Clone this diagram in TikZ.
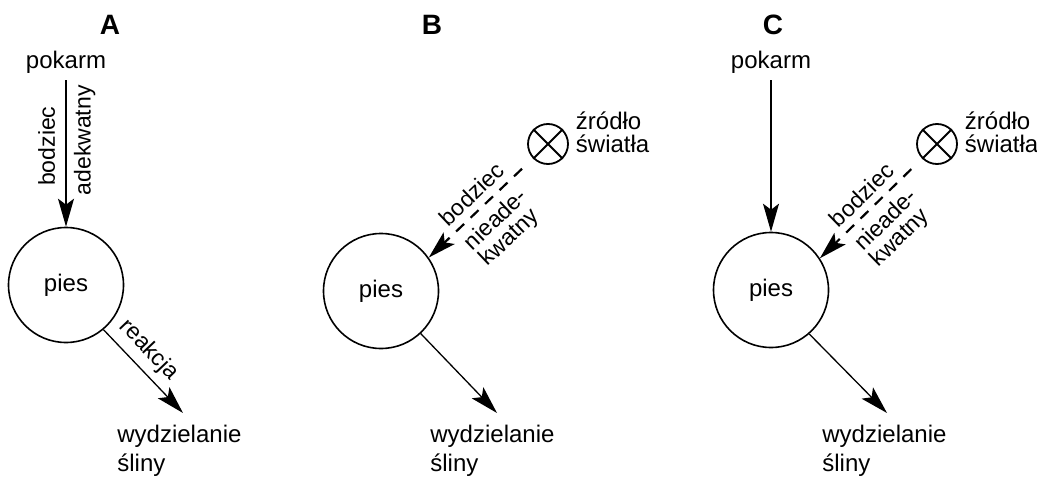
\documentclass[tikz,border=0pt]{standalone}
\usepackage{fontspec}
\setmainfont{Liberation Sans}
\usetikzlibrary{positioning, arrows.meta}

\begin{document}
\begin{tikzpicture}
  [
  x=0.5pt, y=-0.5pt,
  every node/.style={font=\fontsize{12}{14.5}\selectfont},
  title/.style={font=\fontsize{14}{16}\selectfont\bfseries},
  dog/.style={circle, draw, line width=0.8pt, minimum size=57.5pt, inner sep=0pt},
  lamp/.style={circle, draw, line width=0.9pt, minimum size=20pt, inner sep=0pt},
  lbl/.style={font=\fontsize{11.5}{11}\selectfont, inner sep=1.5pt},
  react/.style={align=left, anchor=north west, inner sep=0pt},
  arr/.style={line width=0.65pt, -{Stealth[length=14pt, width=8pt, inset=3pt]}},
  dasharr/.style={arr, line width=1.1pt, dash pattern=on 5.5pt off 4.5pt, shorten <=7.5pt}
  ]
  \useasboundingbox (0,0) rectangle (1037,476);

  % A
  \node[title] (tA) at (110,25) {A};
  \node (foodA) at (66,62) {pokarm};
  \node[dog] (dogA) at (66,285) {pies};
  \node[react] (salA) at (117,425) {wydzielanie\\śliny};
  \coordinate (tipA) at (183,413);
  \draw[arr] (foodA) -- (dogA)
    node[lbl, pos=.45, rotate=90, anchor=south, outer sep=4pt] {bodziec}
    node[lbl, pos=.41, rotate=90, anchor=north, outer sep=2.5pt] {adekwatny};
  \draw[arr] (dogA.-50) -- (tipA)
    node[lbl, pos=.4, sloped, above, outer sep=2.5pt] {reakcja};

  % B
  \node[title] (tB) at (432,25) {B};
  \node[dog] (dogB) at (381,291) {pies};
  \node[lamp] (lampB) at (548,144) {};
  \draw[line width=0.9pt] (lampB.45) -- (lampB.225) (lampB.135) -- (lampB.315);
  \node[right=0pt of lampB, yshift=6pt, align=left, font=\fontsize{12}{11.5}\selectfont] (srcB) {źródło\\światła};
  \node[react] (salB) at (430,425) {wydzielanie\\śliny};
  \coordinate (tipB) at (497,413);
  \draw[dasharr] (lampB) -- (dogB.35)
    node[lbl, pos=.48, sloped, above, outer sep=2.5pt] {bodziec}
    node[lbl, pos=.48, sloped, below, align=left, outer sep=3pt] {nieade-\\kwatny};
  \draw[arr] (dogB.-47) -- (tipB);

  % C
  \node[title] (tC) at (773,25) {C};
  \node (foodC) at (771,62) {pokarm};
  \node[dog] (dogC) at (771,290) {pies};
  \node[lamp] (lampC) at (937,144) {};
  \draw[line width=0.9pt] (lampC.45) -- (lampC.225) (lampC.135) -- (lampC.315);
  \node[right=0pt of lampC, yshift=6pt, align=left, font=\fontsize{12}{11.5}\selectfont] (srcC) {źródło\\światła};
  \node[react] (salC) at (822,425) {wydzielanie\\śliny};
  \coordinate (tipC) at (887,413);
  \draw[arr] (foodC) -- (dogC);
  \draw[dasharr] (lampC) -- (dogC.33)
    node[lbl, pos=.48, sloped, above, outer sep=2.5pt] {bodziec}
    node[lbl, pos=.48, sloped, below, align=left, outer sep=3pt] {nieade-\\kwatny};
  \draw[arr] (dogC.-49) -- (tipC);
\end{tikzpicture}
\end{document}
